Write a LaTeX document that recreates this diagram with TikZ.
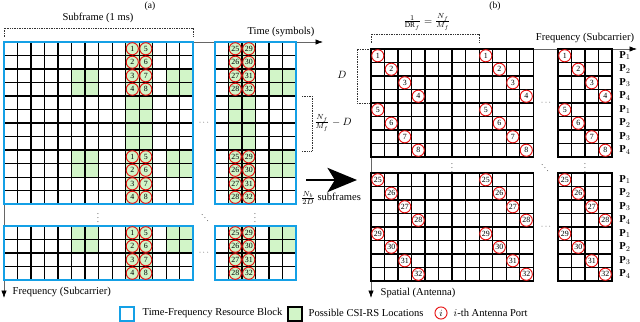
\documentclass[tikz,border=0pt]{standalone}
\usepackage{fontspec}
\setmainfont{Liberation Serif}
\usetikzlibrary{arrows.meta}
\definecolor{rbblue}{RGB}{20,160,230}
\definecolor{csigreen}{RGB}{210,245,200}
\definecolor{portred}{RGB}{230,20,20}
\tikzset{cell/.style={line width=1pt,line cap=rect},
 csi/.style={fill=csigreen},
 rbline/.style={draw=rbblue,line width=1.2pt},
 port/.style={circle,draw=portred,line width=0.9pt,inner sep=0pt,minimum size=11.5pt,font=\fontsize{7.5}{8}\selectfont},
 axisarrow/.style={black!60,line width=0.6pt,-{Latex[length=7pt,width=5pt,black]}},
 brk/.style={densely dotted,black!80,line width=0.6pt},
 dots/.style={font=\scriptsize,inner sep=0pt}}
\newcommand{\rbgrid}[2]{\foreach \i in {0,...,#1} \draw[cell] (\i,0) -- (\i,#2);
 \foreach \j in {0,...,#2} \draw[cell] (0,\j) -- (#1,\j);}
\newcommand{\portpair}[4]{\foreach \r [evaluate=\r as \a using int(#3+\r),
 evaluate=\r as \b using int(#3+4+\r)] in {0,...,3}{
 \node[port] (#4\a) at (#1+.5,#2+\r+.5) {\a};
 \node[port] (#4\b) at (#1+1.5,#2+\r+.5) {\b};}}
\newcommand{\portdiag}[3]{\foreach \k [evaluate=\k as \a using int(#2+\k),
 evaluate=\k as \b using int(#2+4+\k)] in {0,...,3}{
 \node[port] (#3\a) at (#1+\k+.5,\k+.5) {\a};
 \node[port] (#3\b) at (#1+\k+.5,\k+4.5) {\b};}}
\begin{document}
\begin{tikzpicture}[x=0.03333cm,y=-0.03333cm]
\useasboundingbox (0,0) rectangle (640,322);
\node (ta) at (150,6) {\small (a)};
\node (tb) at (495,6) {\small (b)};
% (a) time-frequency grid
\coordinate (oa) at (4,42);
\draw[axisarrow] (oa) -- (323,42) coordinate (ea);
\draw[axisarrow] (oa) -- (4,298) coordinate (fa);
\node (time) at (281,32) {Time (symbols)};
\node[anchor=west] (freqa) at (9,292) {Frequency (Subcarrier)};
\draw[brk] (4,37) |- (193,28) -- (193,37);
\node (sub) at (98,18) {Subframe (1 ms)};
\begin{scope}[shift={(4,42)},x=0.45cm,y=-0.45cm]
 \foreach \r in {2,3,8,9} \foreach \q in {5,6,12,13} \fill[csi] (\q,\r) rectangle ++(1,1);
 \fill[csi] (9,0) rectangle (11,12);
 \rbgrid{14}{12} \draw[rbline] (0,0) rectangle (14,12);
 \portpair{9}{0}{1}{ua} \portpair{9}{8}{1}{ub}
\end{scope}
\begin{scope}[shift={(215,42)},x=0.45cm,y=-0.45cm]
 \foreach \r in {2,3,8,9} \fill[csi] (4,\r) rectangle ++(2,1);
 \fill[csi] (1,0) rectangle (3,12);
 \rbgrid{6}{12} \draw[rbline] (0,0) rectangle (6,12);
 \portpair{1}{0}{25}{uc} \portpair{1}{8}{25}{ud}
\end{scope}
\begin{scope}[shift={(4,226)},x=0.45cm,y=-0.45cm]
 \foreach \q in {5,12} \fill[csi] (\q,0) rectangle ++(2,2);
 \fill[csi] (9,0) rectangle (11,4);
 \rbgrid{14}{4} \draw[rbline] (0,0) rectangle (14,4);
 \portpair{9}{0}{1}{ue}
\end{scope}
\begin{scope}[shift={(215,226)},x=0.45cm,y=-0.45cm]
 \fill[csi] (4,0) rectangle ++(2,2);
 \fill[csi] (1,0) rectangle (3,4);
 \rbgrid{6}{4} \draw[rbline] (0,0) rectangle (6,4);
 \portpair{1}{0}{25}{uf}
\end{scope}
\node[dots] (ha1) at (204,123) {$\cdots$};
\node[dots] (ha2) at (204,253) {$\cdots$};
\node[dots] (va1) at (98,215) {$\vdots$};
\node[dots] (va2) at (255,215) {$\vdots$};
\node[dots] (da) at (205,215) {$\ddots$};
\draw[brk] (302,96) -| (312,151) -- (302,151);
\node (nfd) at (333,123) {$\frac{N_f}{M_f}-D$};
% mapping arrow
\coordinate (ma) at (306,180); \coordinate (mb) at (357,180);
\draw[line width=2pt,-{Stealth[length=28pt,width=23pt,inset=7pt]}] (ma) -- (mb);
\node (nb) at (331,198) {$\frac{N_b}{2D}$ subframes};
% (b) spatial-frequency grid
\coordinate (ob) at (371,49);
\draw[axisarrow] (ob) -- (637,49) coordinate (eb);
\draw[axisarrow] (ob) -- (371,298) coordinate (fb);
\node (freqb) at (585,38) {Frequency (Subcarrier)};
\node[anchor=west] (spat) at (377,293) {Spatial (Antenna)};
\draw[brk] (371,43) |- (479,34) -- (479,43);
\node (dr) at (427,22) {$\frac{1}{\mathrm{DR}_f}=\frac{N_f}{M_f}$};
\draw[brk] (369,49) -| (357,103) -- (369,103);
\node (dd) at (342,75) {$D$};
\begin{scope}[shift={(371,49)},x=0.45cm,y=-0.45cm]
 \rbgrid{12}{8} \portdiag{0}{1}{sa} \portdiag{8}{1}{sb}
\end{scope}
\begin{scope}[shift={(558,49)},x=0.45cm,y=-0.45cm]
 \rbgrid{4}{8} \portdiag{0}{1}{sc}
\end{scope}
\begin{scope}[shift={(371,173)},x=0.45cm,y=-0.45cm]
 \rbgrid{12}{8} \portdiag{0}{25}{sd} \portdiag{8}{25}{se}
\end{scope}
\begin{scope}[shift={(558,173)},x=0.45cm,y=-0.45cm]
 \rbgrid{4}{8} \portdiag{0}{25}{sf}
\end{scope}
\foreach \r [evaluate=\r as \p using {int(mod(\r,4)+1)}] in {0,...,7}{
 \node (pu\r) at (625,55.75+13.5*\r) {$\mathbf{P}_{\p}$};
 \node (pl\r) at (625,179.75+13.5*\r) {$\mathbf{P}_{\p}$};}
\node[dots] (hb1) at (546,103) {$\cdots$};
\node[dots] (hb2) at (546,227) {$\cdots$};
\node[dots] (vb1) at (452,165) {$\vdots$};
\node[dots] (vb2) at (585,165) {$\vdots$};
\node[dots] (db) at (545,165) {$\ddots$};
% legend
\draw[rbline] (120,307) rectangle (134,321);
\node[anchor=west] (lg1) at (139,313) {Time-Frequency Resource Block};
\draw[cell,csi] (288,307) rectangle (302,321);
\node[anchor=west] (lg2) at (305,313) {Possible CSI-RS Locations};
\node[port,font=\small] (lg3) at (441,313) {$i$};
\node[anchor=west] (lg4) at (450,313) {$i$-th Antenna Port};
\end{tikzpicture}
\end{document}
